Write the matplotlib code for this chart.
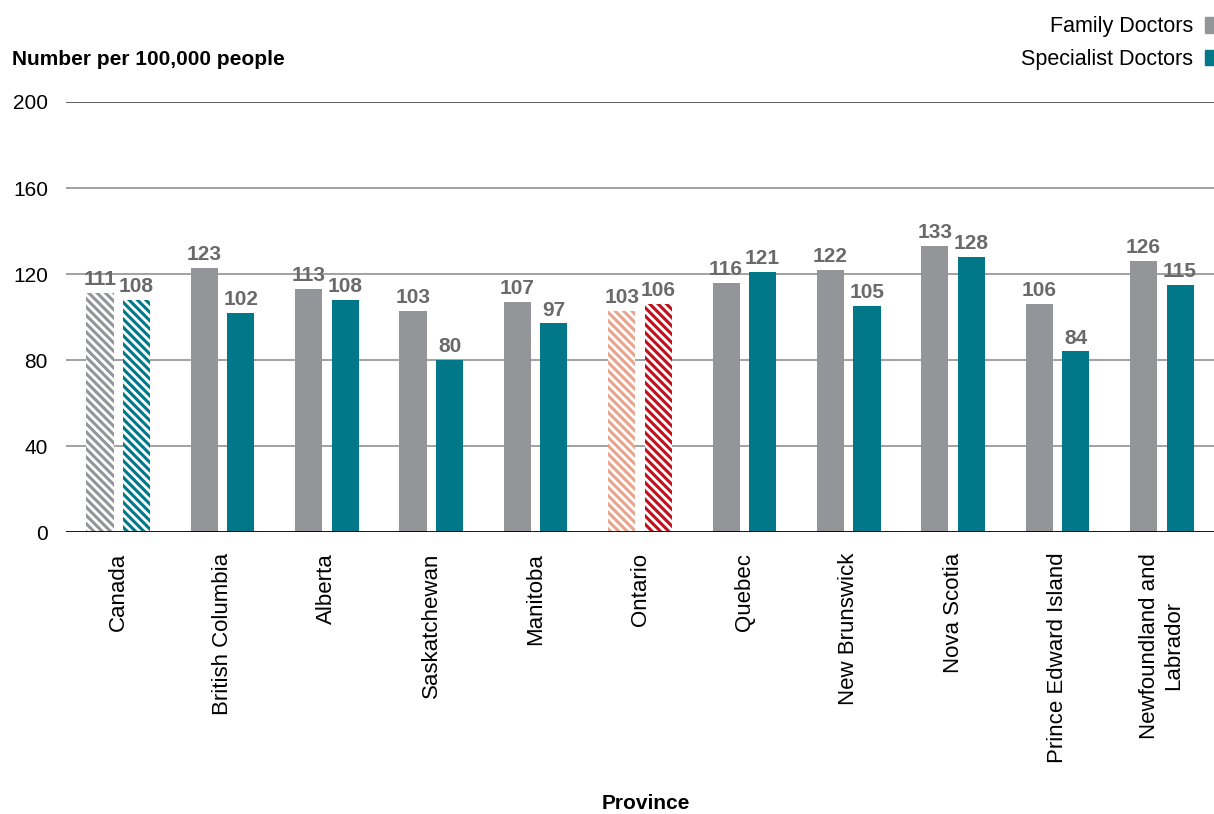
import numpy as np
import matplotlib.pyplot as plt
from matplotlib.patches import Patch

plt.rcParams['font.family'] = ['Liberation Sans', 'DejaVu Sans']
plt.rcParams['hatch.linewidth'] = 2.0

provinces = ['Canada', 'British Columbia', 'Alberta', 'Saskatchewan', 'Manitoba',
             'Ontario', 'Quebec', 'New Brunswick', 'Nova Scotia',
             'Prince Edward Island', 'Newfoundland and\nLabrador']
family = [111, 123, 113, 103, 107, 103, 116, 122, 133, 106, 126]
specialist = [108, 102, 108, 80, 97, 106, 121, 105, 128, 84, 115]

gray = '#939598'
teal = '#00788a'
fam_colors = [gray] * 11
spec_colors = [teal] * 11
fam_colors[5] = '#e8a48c'
spec_colors[5] = '#c0121e'
hatched = [0, 5]

fig = plt.figure(figsize=(12.14, 8.14), dpi=100)
ax = fig.add_axes([0.0544, 0.3464, 0.9456, 0.5283])

x = np.arange(len(provinces))
w = 0.26
off = 0.175
b1 = ax.bar(x - off, family, w, color=fam_colors, zorder=2, linewidth=0)
b2 = ax.bar(x + off, specialist, w, color=spec_colors, zorder=2, linewidth=0)
for i in hatched:
    for b in (b1[i], b2[i]):
        b.set_hatch('\\\\\\\\')
        b.set_edgecolor('white')

for i in range(len(provinces)):
    ax.text(x[i] - off, family[i] + 1.8, str(family[i]), ha='center', va='bottom',
            fontsize=15, fontweight='bold', color='#6a6a6a')
    ax.text(x[i] + off, specialist[i] + 1.8, str(specialist[i]), ha='center', va='bottom',
            fontsize=15, fontweight='bold', color='#6a6a6a')

ax.set_ylim(0, 200)
ax.set_xlim(-0.5, len(provinces) - 0.5)
ax.set_yticks([0, 40, 80, 120, 160, 200])
for yv in [40, 80, 120, 160]:
    ax.axhline(yv, color='#888888', linewidth=1.1, zorder=1)
ax.axhline(200, color='#333333', linewidth=1.1, zorder=1)
ax.axhline(0, color='black', linewidth=2, zorder=3)
for s in ax.spines.values():
    s.set_visible(False)
ax.tick_params(axis='both', length=0)
ax.tick_params(axis='y', pad=13, labelsize=15)
ax.tick_params(axis='x', pad=15, labelsize=16)
ax.set_xticks(x)
ax.set_xticklabels(provinces, rotation=90, va='top', ha='center', multialignment='center')

fig.text(0.01, 0.9275, 'Number per 100,000 people', fontsize=15, fontweight='bold', va='center')
fig.text(0.532, 0.0135, 'Province', fontsize=15, fontweight='bold', ha='center', va='center')

handles = [Patch(color=gray, label='Family Doctors'), Patch(color=teal, label='Specialist Doctors')]
fig.legend(handles=handles, loc='upper right', bbox_to_anchor=(1.0016, 0.98), frameon=False,
           markerfirst=False, fontsize=15.5, handlelength=0.5, handleheight=0.75,
           handletextpad=0.56, labelspacing=0.55, borderpad=0, borderaxespad=0)

fig.savefig('out.png', dpi=100)
